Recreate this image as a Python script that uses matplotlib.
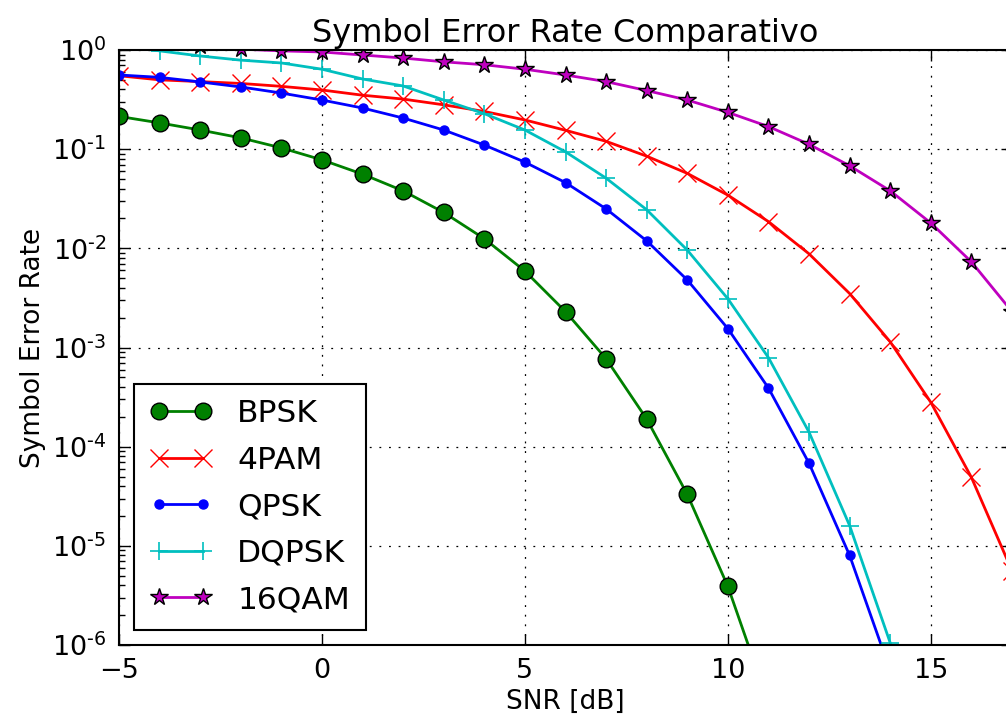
import matplotlib
matplotlib.use('Agg')
import matplotlib.pyplot as plt
import matplotlib.ticker as mticker
import numpy as np

# SNR points (dB) and symbol error rates
snr = list(range(-5, 21))

ser_bpsk = [0.214, 0.184, 0.156, 0.130, 0.103, 0.078, 0.056, 0.038, 0.023, 0.0125,
            0.0059, 0.0023, 7.7e-4, 1.9e-4, 3.3e-5, 3.9e-6, 2.6e-7, 9e-9]
ser_4pam = [0.55, 0.50, 0.48, 0.46, 0.43, 0.395, 0.35, 0.32, 0.28, 0.24,
            0.197, 0.155, 0.12, 0.085, 0.057, 0.0344, 0.0186, 0.0088, 0.0035, 0.00114,
            2.8e-4, 4.9e-5, 5.6e-6, 3.9e-7]
ser_qpsk = [0.56, 0.53, 0.476, 0.424, 0.368, 0.313, 0.26, 0.206, 0.156, 0.110,
            0.074, 0.046, 0.025, 0.0119, 0.0048, 0.00155, 3.9e-4, 6.8e-5, 8.0e-6, 5.5e-7,
            2e-8]
ser_dqpsk = [1.1, 0.98, 0.87, 0.79, 0.74, 0.64, 0.51, 0.434, 0.313, 0.228,
             0.156, 0.094, 0.051, 0.0245, 0.0096, 0.0031, 7.9e-4, 1.4e-4, 1.6e-5, 1.05e-6,
             4e-8]
ser_16qam = [1.3, 1.2, 1.1, 1.02, 0.98, 0.955, 0.89, 0.83, 0.76, 0.71,
             0.64, 0.56, 0.48, 0.39, 0.313, 0.235, 0.169, 0.112, 0.068, 0.038,
             0.018, 0.0073, 2.3e-3, 5e-4, 7e-5, 6e-6]

labels = ['BPSK', '4PAM', 'QPSK', 'DQPSK', '16QAM']
xticks = [-5, 0, 5, 10, 15]
yticks = [1e-6, 1e-5, 1e-4, 1e-3, 1e-2, 1e-1, 1]

plt.rcParams['font.family'] = 'DejaVu Sans'
plt.rcParams['mathtext.fontset'] = 'dejavusans'
plt.rcParams['mathtext.default'] = 'regular'


def log_label(v, pos):
    # old-style exponent labels, short hyphen in the exponent
    e = int(round(np.log10(v)))
    if e < 0:
        return r'$10^{\text{-}%d}$' % (-e)
    return r'$10^{%d}$' % e


fig = plt.figure(figsize=(10.06, 7.2), dpi=100)
ax = fig.add_axes([119 / 1006, 75 / 720, 893 / 1006, 595 / 720])

ax.semilogy(snr[:len(ser_bpsk)], ser_bpsk, 'o-', color='g', lw=2, ms=12,
            mec='k', mew=1, label=labels[0])
ax.semilogy(snr[:len(ser_4pam)], ser_4pam, 'x-', color='r', lw=2, ms=13,
            mec='r', mew=1, label=labels[1])
ax.semilogy(snr[:len(ser_qpsk)], ser_qpsk, 'o-', color='b', lw=2, ms=6.5,
            mec='b', mew=1, label=labels[2])
ax.semilogy(snr[:len(ser_dqpsk)], ser_dqpsk, '+-', color='c', lw=2, ms=13,
            mec='c', mew=1.2, label=labels[3])
ax.semilogy(snr[:len(ser_16qam)], ser_16qam, '*-', color='m', lw=2, ms=13,
            mec='k', mew=1, label=labels[4])

ax.set_xlim(-5, 17)
ax.set_ylim(1e-6, 1)
ax.set_xticks(xticks)
ax.yaxis.set_major_locator(mticker.FixedLocator(yticks))
ax.yaxis.set_major_formatter(mticker.FuncFormatter(log_label))
ax.yaxis.set_minor_locator(mticker.LogLocator(base=10, subs=range(2, 10), numticks=20))
ax.yaxis.set_minor_formatter(mticker.NullFormatter())

ax.tick_params(which='both', direction='in', top=True, right=True, labelsize=19.5, pad=9)
ax.tick_params(which='major', length=8, width=1)
ax.tick_params(which='minor', length=4, width=1)
for s in ax.spines.values():
    s.set_linewidth(1.5)

ax.grid(True, which='major', color='k', linestyle=(0, (1.5, 6.2)), linewidth=0.9)

ax.set_xlabel('SNR [dB]', fontsize=19)
ax.set_ylabel('Symbol Error Rate', fontsize=19)
ax.set_title('Symbol Error Rate Comparativo', fontsize=23)

leg = ax.legend(loc='lower left', bbox_to_anchor=(134 / 1006, 90 / 720),
                bbox_transform=fig.transFigure, borderaxespad=0, numpoints=2,
                fancybox=False, fontsize=22.5, handlelength=2, labelspacing=0.56,
                handletextpad=0.8, borderpad=0.5, framealpha=1)
leg.get_frame().set_edgecolor('k')
leg.get_frame().set_linewidth(1.5)

fig.savefig('out.png', dpi=100)
